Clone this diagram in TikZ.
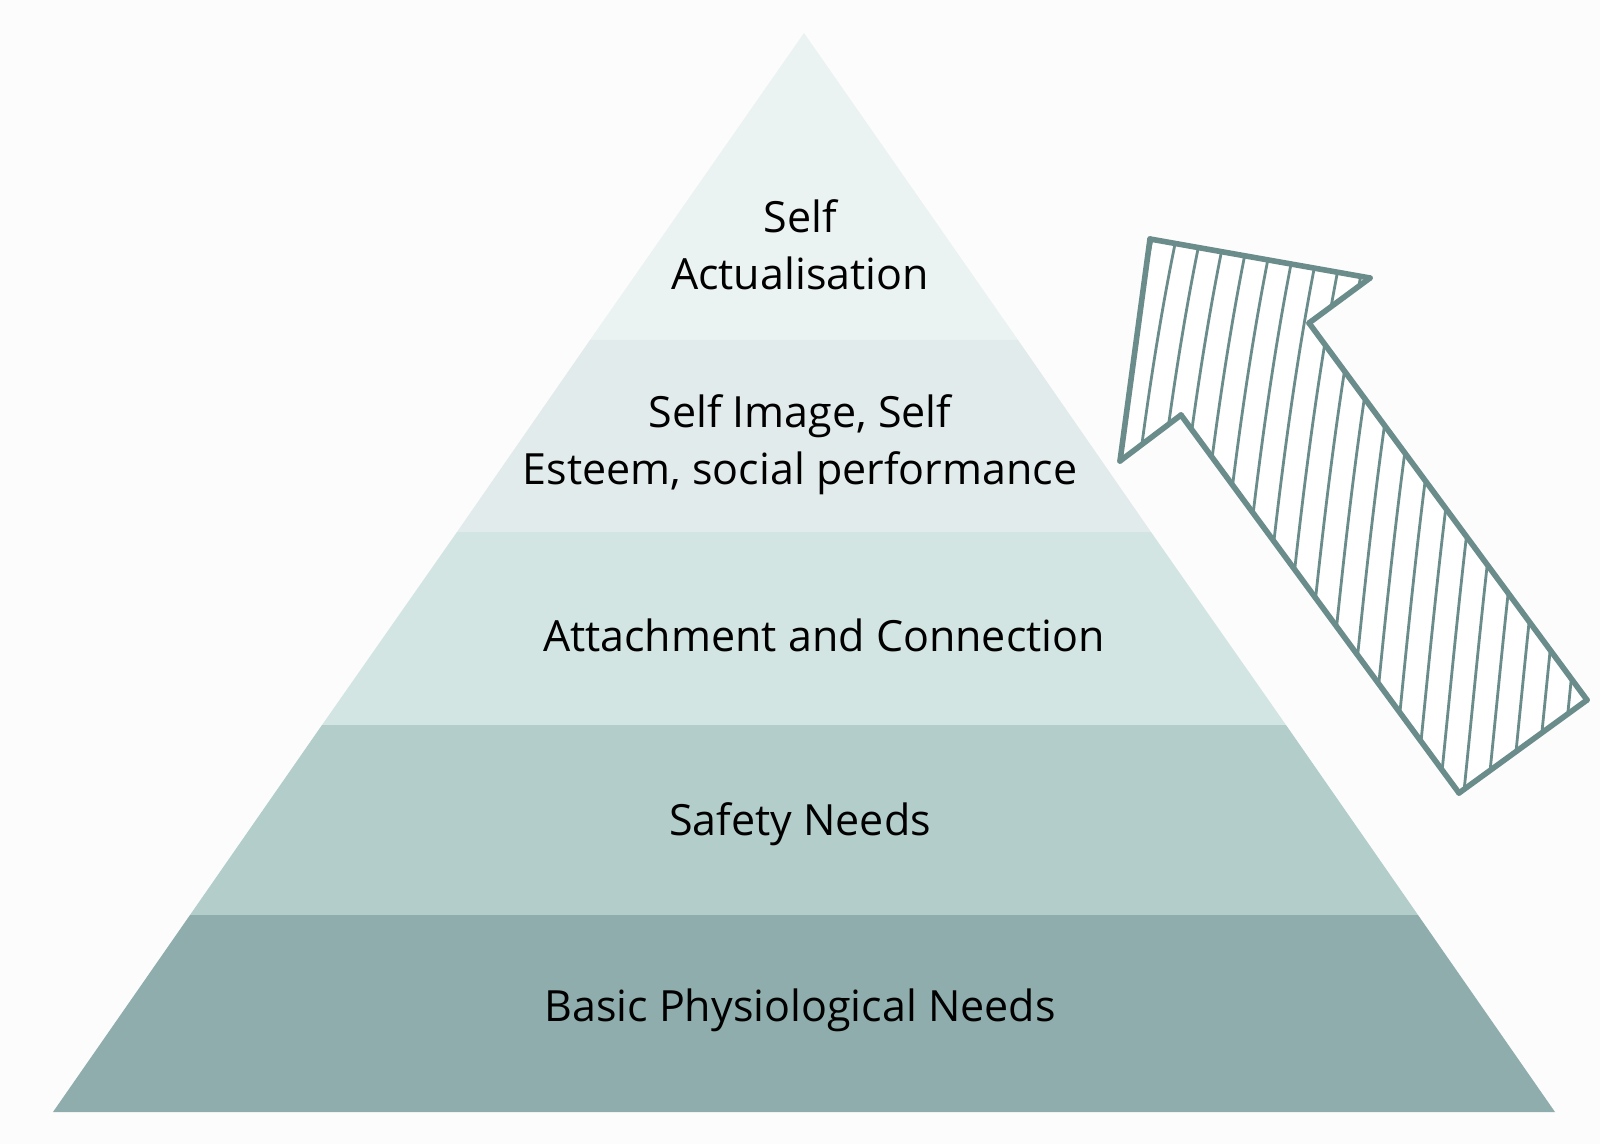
\documentclass[tikz,border=0pt]{standalone}
\usepackage{fontspec}
\setmainfont{Open Sans}
\definecolor{bgcol}{HTML}{FCFCFC}
\definecolor{tierone}{HTML}{EBF3F2}
\definecolor{tiertwo}{HTML}{E1EBEB}
\definecolor{tierthree}{HTML}{D3E5E3}
\definecolor{tierfour}{HTML}{B3CDCA}
\definecolor{tierfive}{HTML}{8EADAC}
\definecolor{arrowcol}{HTML}{6A8C8A}

\begin{document}
\begin{tikzpicture}[x=0.5pt,y=-0.5pt,
  tiertext/.style={font=\fontsize{21.5}{28.5}\selectfont, align=center, text=black},
  arrowline/.style={draw=arrowcol, line width=2.8pt, line cap=round},
  hatchline/.style={draw=arrowcol, line width=1.4pt, line cap=round}]
\fill[bgcol] (0,0) rectangle (1600,1144);
\useasboundingbox (0,0) rectangle (1600,1144);
% pyramid tiers
\fill[tierone] (804,33) -- (1018,340) -- (590,340) -- cycle;
\fill[tiertwo] (590,340) -- (1018,340) -- (1151,532) -- (457,532) -- cycle;
\fill[tierthree] (457,532) -- (1151,532) -- (1286,725) -- (322,725) -- cycle;
\fill[tierfour] (322,725) -- (1286,725) -- (1418,915) -- (190,915) -- cycle;
\fill[tierfive] (190,915) -- (1418,915) -- (1555,1112) -- (53,1112) -- cycle;
\node[tiertext] (selfact) at (800,245) {Self\\Actualisation};
\node[tiertext] (esteem) at (800,445) {Self Image, Self\\Esteem, social performance};
\node[tiertext] (attach) at (824,635) {Attachment and Connection};
\node[tiertext] (safety) at (800,824) {Safety Needs};
\node[tiertext] (basic) at (800,1010) {Basic Physiological Needs};
% sketched arrow
\coordinate (tip) at (1150,239);
\coordinate (headr) at (1370,278);
\coordinate (notchr) at (1309,323);
\coordinate (tailr) at (1587,700);
\coordinate (taill) at (1459,793);
\coordinate (notchl) at (1181,415);
\coordinate (headl) at (1120,461);
\fill[white] (tip) -- (headr) -- (notchr) -- (tailr) -- (taill) -- (notchl) -- (headl) -- cycle;
\begin{scope}
\clip (tip) -- (headr) -- (notchr) -- (tailr) -- (taill) -- (notchl) -- (headl) -- cycle;
\foreach \x in {1078,1102,...,1560}
  \draw[hatchline] (\x,810) .. controls (\x+18,640) and (\x+35,420) .. (\x+78,220);
\end{scope}
\draw[arrowline] (tip) -- (headr);
\draw[arrowline] (headr) -- (notchr);
\draw[arrowline] (notchr) -- (tailr);
\draw[arrowline] (tailr) -- (taill);
\draw[arrowline] (taill) -- (notchl);
\draw[arrowline] (notchl) -- (headl);
\draw[arrowline] (headl) -- (tip);
\end{tikzpicture}
\end{document}
